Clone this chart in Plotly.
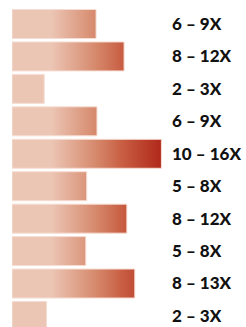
import plotly.graph_objects as go

labels = ["6 – 9X", "8 – 12X", "2 – 3X", "6 – 9X", "10 – 16X",
          "5 – 8X", "8 – 12X", "5 – 8X", "8 – 13X", "2 – 3X"]
values = [9.0, 12.0, 3.45, 9.1, 16.0, 8.0, 12.3, 7.9, 13.15, 3.7]

colorscale = [
    [0.0, "#ecc6b5"],
    [0.26, "#ecc6b5"],
    [0.56, "#d6896c"],
    [0.75, "#c75b40"],
    [1.0, "#b0281a"],
]

half = 0.447
fig = go.Figure()
for i, v in enumerate(values):
    fig.add_trace(go.Scatter(
        x=[0, v, v, 0, 0],
        y=[i - half, i - half, i + half, i + half, i - half],
        mode="lines",
        fill="toself",
        fillgradient=dict(type="horizontal", colorscale=colorscale,
                          start=0, stop=16),
        line=dict(color="#f6ddd3", width=1),
        hoverinfo="skip",
        showlegend=False,
    ))

fig.update_layout(
    width=246, height=327,
    margin=dict(l=12, r=80, t=0, b=0, autoexpand=False),
    paper_bgcolor="white", plot_bgcolor="white",
    xaxis=dict(range=[0, 16.49], visible=False, fixedrange=True),
    yaxis=dict(
        range=[9.34, -0.74],
        side="right",
        automargin=False,
        tickvals=list(range(len(labels))),
        ticktext=labels,
        showgrid=False, zeroline=False, showline=False, ticks="",
        ticklabelstandoff=5,
        tickfont=dict(family="Lato", size=17, color="#111111", weight=900),
        fixedrange=True,
    ),
)

fig.write_html(
    "out.html",
    config={"displayModeBar": False},
    post_script="document.body.style.margin='0';document.body.style.overflow='hidden';",
)
